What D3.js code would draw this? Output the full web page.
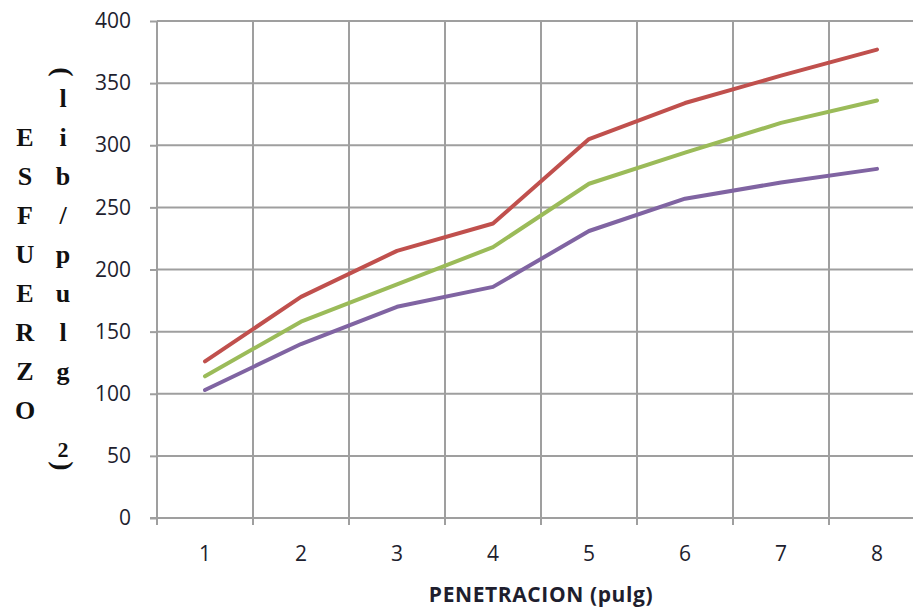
<!DOCTYPE html>
<html>
<head>
<meta charset="utf-8">
<script src="https://cdn.jsdelivr.net/npm/d3@7"></script>
<style>
  html, body { margin: 0; padding: 0; background: #fff; }
  svg { display: block; }
</style>
</head>
<body>
<svg id="chart" width="913" height="609"></svg>
<script>
// Penetración (pulg) vs. esfuerzo (lib/pulg²) for three curves
const categories = [1, 2, 3, 4, 5, 6, 7, 8];
const serieRoja   = [126, 178, 215, 237, 305, 334, 356, 377];
const serieVerde  = [114, 158, 188, 218, 269, 294, 318, 336];
const serieMorada = [103, 140, 170, 186, 231, 257, 270, 281];
const yTicks = [0, 50, 100, 150, 200, 250, 300, 350, 400];
const xTitle = "PENETRACION (pulg)";
const yTitleLeft = ["E", "S", "F", "U", "E", "R", "Z", "O"];
const yTitleRight = ["l", "i", "b", "/", "p", "u", "l", "g"];

const series = [
  { values: serieRoja,   color: "#C0504D" },
  { values: serieVerde,  color: "#9BBB59" },
  { values: serieMorada, color: "#8064A2" }
];

const svg = d3.select("#chart");
const plotL = 157, plotR = 925, plotT = 21, plotB = 518;
const gridColor = "#9f9f9f";
const labelFont = "'Open Sans', sans-serif";

const x = d3.scaleBand().domain(categories).range([plotL, plotR]).padding(0);
const y = d3.scaleLinear().domain([0, 400]).range([plotB, plotT]);

// horizontal gridlines
svg.append("g")
  .selectAll("line")
  .data(yTicks)
  .join("line")
  .attr("x1", plotL).attr("x2", plotR)
  .attr("y1", d => y(d)).attr("y2", d => y(d))
  .attr("stroke", gridColor).attr("stroke-width", 2);

// vertical gridlines at category boundaries (with ticks below the axis)
const bounds = categories.map(c => x(c)).concat([plotR]);
svg.append("g")
  .selectAll("line")
  .data(bounds)
  .join("line")
  .attr("x1", d => d).attr("x2", d => d)
  .attr("y1", plotT).attr("y2", plotB + 7)
  .attr("stroke", gridColor).attr("stroke-width", 2);

// y axis with ticks and labels
const yAxis = svg.append("g")
  .attr("transform", `translate(${plotL},0)`)
  .call(d3.axisLeft(y).tickValues(yTicks).tickSize(7).tickPadding(19));
yAxis.select(".domain").attr("stroke", gridColor).attr("stroke-width", 2)
  .attr("d", `M0,${plotT}V${plotB + 7}`);
yAxis.selectAll(".tick line").attr("stroke", gridColor).attr("stroke-width", 2);
yAxis.selectAll(".tick text")
  .attr("font-family", labelFont)
  .attr("font-size", 21)
  .attr("fill", "#1e1e2e");

// x axis labels at category centres
const xAxis = svg.append("g")
  .attr("transform", `translate(0,${plotB})`)
  .call(d3.axisBottom(x).tickSize(0).tickPadding(28));
xAxis.select(".domain").remove();
xAxis.selectAll(".tick text")
  .attr("font-family", labelFont)
  .attr("font-size", 21)
  .attr("fill", "#1e1e2e");

// x axis line
svg.append("line")
  .attr("x1", plotL - 7).attr("x2", plotR)
  .attr("y1", plotB).attr("y2", plotB)
  .attr("stroke", gridColor).attr("stroke-width", 2);

// data lines
const line = d3.line()
  .x((d, i) => x(categories[i]) + x.bandwidth() / 2)
  .y(d => y(d));

svg.append("g")
  .selectAll("path")
  .data(series)
  .join("path")
  .attr("d", d => line(d.values))
  .attr("fill", "none")
  .attr("stroke", d => d.color)
  .attr("stroke-width", 4)
  .attr("stroke-linecap", "round")
  .attr("stroke-linejoin", "round");

// x axis title
svg.append("text")
  .attr("x", 541).attr("y", 602)
  .attr("text-anchor", "middle")
  .attr("font-family", labelFont)
  .attr("font-weight", "bold")
  .attr("font-size", 21)
  .attr("letter-spacing", 0.6)
  .attr("fill", "#1e1e2e")
  .text(xTitle);

// y axis title: stacked letters in two columns
const serif = "'Liberation Serif', 'Times New Roman', serif";
svg.append("g")
  .selectAll("text")
  .data(yTitleLeft)
  .join("text")
  .attr("x", 25)
  .attr("y", (d, i) => 146 + i * 39)
  .attr("text-anchor", "middle")
  .attr("font-family", serif).attr("font-weight", "bold").attr("font-size", 26)
  .attr("fill", "#111")
  .text(d => d);

svg.append("g")
  .selectAll("text")
  .data(yTitleRight)
  .join("text")
  .attr("x", 63)
  .attr("y", (d, i) => 107 + i * 39)
  .attr("text-anchor", "middle")
  .attr("font-family", serif).attr("font-weight", "bold").attr("font-size", 26)
  .attr("fill", "#111")
  .text(d => d);

svg.append("text")
  .attr("x", 63).attr("y", 457)
  .attr("text-anchor", "middle")
  .attr("font-family", serif).attr("font-weight", "bold").attr("font-size", 22)
  .attr("fill", "#111")
  .text("2");

// parentheses turned sideways, above and below the unit letters
[["(", 72], [")", 466]].forEach(([ch, cy]) => {
  svg.append("g")
    .attr("transform", `translate(63,${cy}) rotate(90)`)
    .append("text")
    .attr("text-anchor", "middle")
    .attr("dominant-baseline", "central")
    .attr("font-family", serif).attr("font-weight", "bold").attr("font-size", 28)
    .attr("fill", "#111")
    .text(ch);
});
</script>
</body>
</html>
